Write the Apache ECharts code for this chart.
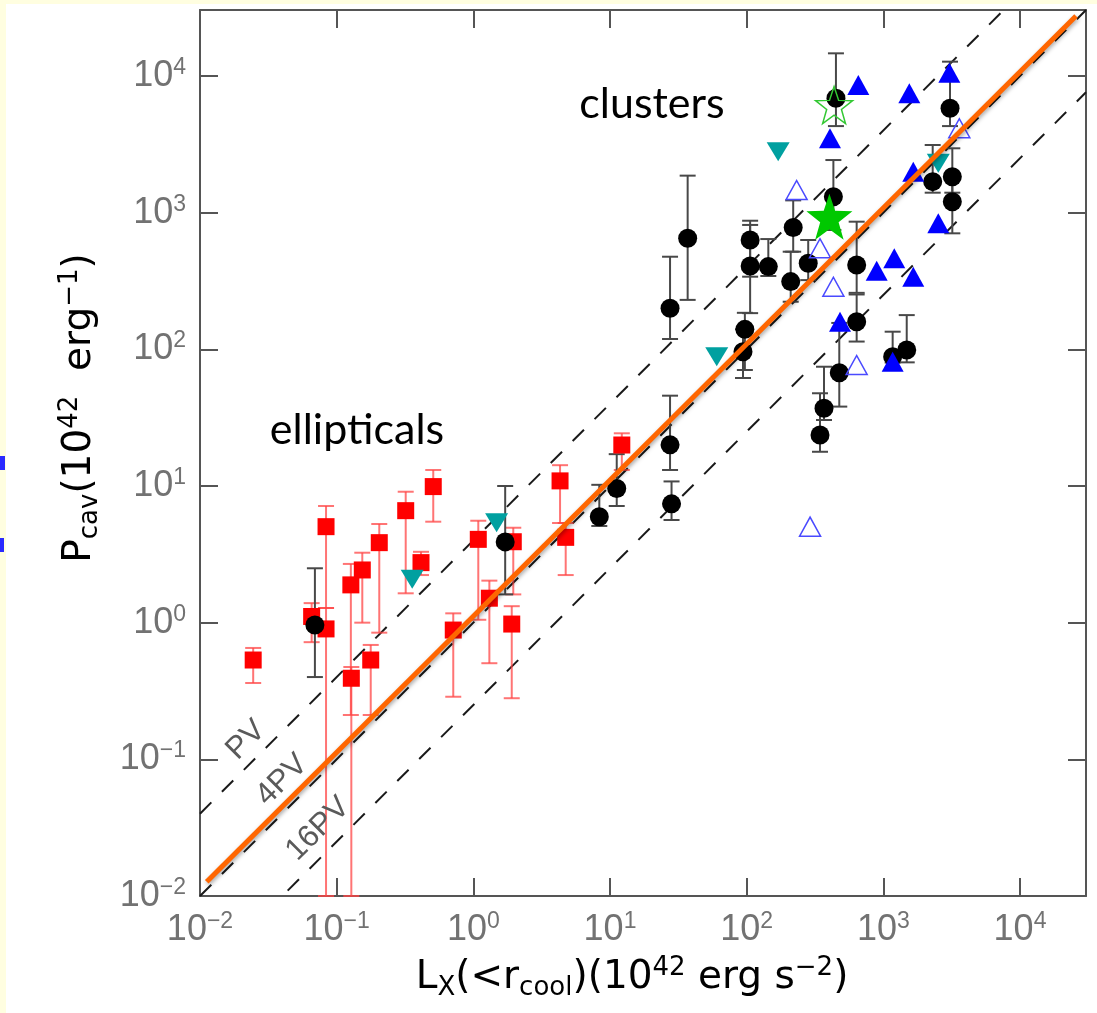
<!DOCTYPE html>
<html>
<head>
<meta charset="utf-8">
<script src="https://cdn.jsdelivr.net/npm/echarts@6/dist/echarts.min.js"></script>
<style>
  html, body { margin: 0; padding: 0; background: #ffffff; }
  #chart { width: 1097px; height: 1013px; }
</style>
</head>
<body>
<div id="chart"></div>
<script>
// Elliptical galaxies: [Lx, Pcav, Pcav lower, Pcav upper]
const ellipticals = [
  [0.0245, 0.533, 0.362, 0.653],
  [0.0656, 1.11, 0.72, 1.39],
  [0.0836, 5.04, 1.28, 7.14],
  [0.0836, 0.90, 0.01, 1.28],
  [0.127, 1.89, 0.211, 2.69],
  [0.128, 0.392, 0.01, 0.474],
  [0.154, 2.43, 1.0, 3.25],
  [0.205, 3.85, 0.845, 5.27],
  [0.1775, 0.533, 0.211, 0.687],
  [0.32, 6.6, 1.64, 9.08],
  [0.414, 2.75, 2.23, 3.30],
  [0.509, 9.9, 5.48, 13.1],
  [0.713, 0.883, 0.287, 1.17],
  [1.087, 4.07, 1.05, 5.57],
  [1.31, 1.51, 0.505, 2.03],
  [1.96, 3.91, 1.61, 4.95],
  [1.91, 0.977, 0.28, 1.32],
  [4.31, 10.9, 5.36, 14.2],
  [4.74, 4.21, 2.23, 5.36],
  [12.2, 19.95, 13.1, 24.3]
];

// Clusters and groups with cavity power errors: [Lx, Pcav, Pcav lower, Pcav upper]
const clusters = [
  [0.0693, 0.96, 0.40, 2.5],
  [1.71, 3.9, 1.61, 10],
  [8.35, 5.96, 5.1, 10.2],
  [11.2, 9.6, 7.14, 17.1],
  [27.5, 20, 13.1, 45.8],
  [28.2, 7.4, 5.64, 10.8],
  [27.5, 200, 119, 476],
  [37, 650, 230, 1866],
  [106, 631, 340, 873],
  [106, 407, 184, 813],
  [97, 140, 70.6, 185],
  [94, 96, 61.7, 140],
  [144, 403, 344, 641],
  [219, 780, 518, 1230],
  [210, 313, 223, 518],
  [282, 426, 321, 631],
  [431, 1309, 747, 2427],
  [450, 6870, 4300, 14650],
  [638, 414, 259, 859],
  [638, 159, 114, 252],
  [476, 67.5, 38.1, 156],
  [368, 37, 30.4, 74.6],
  [344, 23.6, 17.8, 47.7],
  [1483, 98.9, 80.3, 178],
  [1170, 88.4, 80, 134.6],
  [3076, 5800, 4300, 12730],
  [2297, 1686, 1400, 3126],
  [3197, 1834, 1400, 2958],
  [3197, 1203, 706, 1834]
];

// Other samples: [Lx, Pcav]
const blueFilled = [
  [656, 8600], [1549, 7470], [3040, 10570], [407, 3500], [1656, 1995],
  [2524, 836], [894, 376], [1202, 464], [1656, 340], [482, 159], [1170, 81.2]
];
const blueOpen = [
  [232, 1465], [344, 549], [431, 287], [3597, 4143], [638, 76.8], [291, 5.04]
];
const tealDown = [
  [170, 2795], [2524, 2297], [60.4, 88.3], [1.48, 5.39], [0.357, 2.08]
];
const greenFilled = [[403, 935]];
const greenOpen = [[436, 6130]];

// Constant-enthalpy relations P = k * L
const relationNames = ['PV', '4PV', '16PV'];
const relationFactors = [4, 1, 0.25];
const lxRange = [0.01, 30400];

// Best-fit line endpoints
const fitLine = [[0.0112, 0.0127], [25700, 27500]];

// Axis range
const axisMin = 0.01;
const axisMax = 30400;

const AX = '#555555';
const LBL = '#727272';

function powLabel(v) {
  const l = Math.log10(v);
  const e = Math.round(l);
  if (Math.abs(l - e) > 1e-6) return '';
  const s = e < 0 ? '\u2212' + (-e) : String(e);
  return '{b|10}{s|' + s + '}';
}

const tickRich = {
  b: { fontFamily: 'Liberation Sans', fontSize: 36, color: LBL, lineHeight: 40 },
  s: { fontFamily: 'Liberation Sans', fontSize: 23, color: LBL, lineHeight: 23, verticalAlign: 'top' }
};

function logAxis(pos, show) {
  return {
    type: 'log', logBase: 10, min: axisMin, max: axisMax, interval: 1,
    position: pos,
    axisLine: { show: true, lineStyle: { color: AX, width: 2 } },
    axisTick: { show: true, inside: true, length: 18, lineStyle: { color: AX, width: 2 } },
    minorTick: { show: false },
    splitLine: { show: false },
    axisLabel: show ? {
      show: true, margin: 14, formatter: powLabel, rich: tickRich,
      showMaxLabel: false
    } : { show: false }
  };
}

function errorBars(data, color, width) {
  return {
    type: 'custom',
    z: 2,
    silent: true,
    renderItem(params, api) {
      const x = api.value(0);
      const lo = api.coord([x, api.value(2)]);
      const hi = api.coord([x, api.value(3)]);
      const half = 8;
      const style = { stroke: color, lineWidth: width, fill: null };
      return {
        type: 'group',
        children: [
          { type: 'line', shape: { x1: lo[0], y1: lo[1], x2: hi[0], y2: hi[1] }, style },
          { type: 'line', shape: { x1: lo[0] - half, y1: lo[1], x2: lo[0] + half, y2: lo[1] }, style },
          { type: 'line', shape: { x1: hi[0] - half, y1: hi[1], x2: hi[0] + half, y2: hi[1] }, style }
        ]
      };
    },
    encode: { x: 0, y: [1, 2, 3] },
    data
  };
}

function starPath() {
  let d = '';
  for (let i = 0; i < 10; i++) {
    const r = i % 2 === 0 ? 50 : 20;
    const a = -Math.PI / 2 + i * Math.PI / 5;
    const px = (50 + r * Math.cos(a)).toFixed(2);
    const py = (50 + r * Math.sin(a)).toFixed(2);
    d += (i === 0 ? 'M' : 'L') + px + ' ' + py + ' ';
  }
  return 'path://' + d + 'Z';
}
const STAR = starPath();

const pts = arr => arr.map(d => [d[0], d[1]]);

const series = [];

// dashed enthalpy relations
relationFactors.forEach((k, i) => {
  series.push({
    type: 'line', name: relationNames[i], z: 1, silent: true,
    symbol: 'none', clip: true,
    lineStyle: { color: '#1a1a1a', width: 2, type: [16, 15] },
    data: lxRange.map(x => [x, k * x])
  });
});

series.push(errorBars(ellipticals, 'rgba(255,70,70,0.75)', 2));
series.push(errorBars(clusters, '#484848', 2));

series.push({
  type: 'scatter', z: 3, symbol: 'rect', symbolSize: 17,
  itemStyle: { color: '#ff0000', opacity: 1 }, data: pts(ellipticals)
});
series.push({
  type: 'scatter', z: 3, symbol: 'circle', symbolSize: 19,
  itemStyle: { color: '#000000', opacity: 1 }, data: pts(clusters)
});
series.push({
  type: 'scatter', z: 3, symbol: 'triangle', symbolSize: [22, 20],
  itemStyle: { color: '#0000ff', opacity: 1 }, data: blueFilled
});
series.push({
  type: 'scatter', z: 3, symbol: 'triangle', symbolSize: [21, 19],
  itemStyle: { color: 'rgba(255,255,255,0)', borderColor: '#4a4aff', borderWidth: 1.5, opacity: 1 }, data: blueOpen
});
series.push({
  type: 'scatter', z: 3, symbol: 'triangle', symbolSize: [23, 19], symbolRotate: 180,
  itemStyle: { color: '#00a0a0', opacity: 1 }, data: tealDown
});
series.push({
  type: 'scatter', z: 4, symbol: STAR, symbolSize: 46,
  itemStyle: { color: '#00c800', opacity: 1 }, data: greenFilled
});
series.push({
  type: 'scatter', z: 4, symbol: STAR, symbolSize: 37,
  itemStyle: { color: 'rgba(255,255,255,0)', borderColor: '#33c833', borderWidth: 1.5, opacity: 1 }, data: greenOpen
});

// best fit
series.push({
  type: 'line', z: 6, silent: true, symbol: 'none', clip: true,
  lineStyle: { color: '#ff6600', width: 5, shadowColor: 'rgba(0,0,0,0.35)', shadowBlur: 4, shadowOffsetX: 1, shadowOffsetY: 2 },
  data: fitLine
});

const chart = echarts.init(document.getElementById('chart'), null, { renderer: 'canvas' });

const titleRich = {
  n: { fontFamily: 'DejaVu Sans', fontSize: 39, color: LBL, lineHeight: 46 },
  sub: { fontFamily: 'DejaVu Sans', fontSize: 26, color: LBL, lineHeight: 26, verticalAlign: 'bottom' },
  sup: { fontFamily: 'DejaVu Sans', fontSize: 26, color: LBL, lineHeight: 26, verticalAlign: 'top' }
};

const relLabelPos = [[246, 740], [282, 780], [318, 829]];

chart.setOption({
  animation: false,
  backgroundColor: '#ffffff',
  grid: { left: 200, top: 10, width: 886, height: 886, containLabel: false },
  xAxis: [logAxis('bottom', true), logAxis('top', false)],
  yAxis: [logAxis('left', true), logAxis('right', false)],
  series,
  graphic: [
    { type: 'rect', z: -1, shape: { x: 0, y: 0, width: 1097, height: 4 }, style: { fill: '#fffee0' } },
    { type: 'rect', z: -1, shape: { x: 0, y: 0, width: 6, height: 1013 }, style: { fill: '#fffee0' } },
    { type: 'rect', z: 1, shape: { x: 0, y: 456, width: 5, height: 14 }, style: { fill: '#2a2aff' } },
    { type: 'rect', z: 1, shape: { x: 0, y: 538, width: 4, height: 14 }, style: { fill: '#2a2aff' } },
    {
      type: 'text', z: 20, x: 632, y: 978,
      style: {
        text: '{n|L}{sub|X}{n|(<r}{sub|cool}{n|)(10}{sup|42}{n| erg s}{sup|\u22122}{n|)}',
        rich: titleRich, align: 'center', verticalAlign: 'middle'
      }
    },
    {
      type: 'text', z: 20, x: 80, y: 408, rotation: Math.PI / 2,
      style: {
        text: '{n|P}{sub|cav}{n|(10}{sup|42}{n|  erg}{sup|\u22121}{n|)}',
        rich: titleRich, align: 'center', verticalAlign: 'middle'
      }
    },
    {
      type: 'text', z: 20, x: 652, y: 104,
      style: { text: 'clusters', fontFamily: 'Lato', fontSize: 43, fill: '#000', align: 'center', verticalAlign: 'middle' }
    },
    {
      type: 'text', z: 20, x: 357, y: 430,
      style: { text: 'ellipticals', fontFamily: 'Lato', fontSize: 43, fill: '#000', align: 'center', verticalAlign: 'middle' }
    }
  ].concat(relationNames.map((t, i) => ({
    type: 'text', z: 20, x: relLabelPos[i][0], y: relLabelPos[i][1], rotation: Math.PI / 4,
    style: { text: t, fontFamily: 'Liberation Sans', fontSize: 31, fill: '#5a5a5a', align: 'center', verticalAlign: 'middle' }
  })))
});
</script>
</body>
</html>
